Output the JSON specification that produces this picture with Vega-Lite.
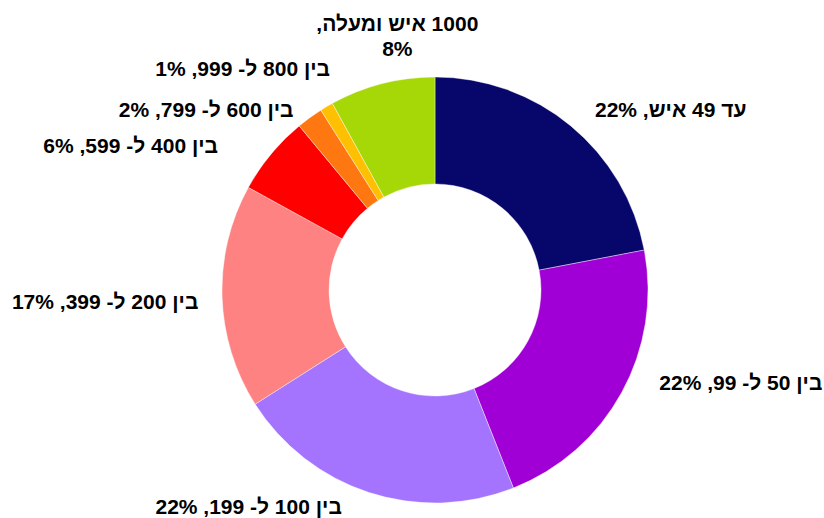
{
  "$schema": "https://vega.github.io/schema/vega-lite/v6.json",
  "width": 778,
  "height": 456,
  "autosize": "none",
  "padding": {"left": 46, "right": 0, "top": 62, "bottom": 0},
  "background": "white",
  "config": {"view": {"stroke": null}, "text": {"font": "Liberation Sans", "fontSize": 21, "fontWeight": "bold", "dir": "rtl", "align": "center", "baseline": "middle", "radius": 260, "lineBreak": "\n", "lineHeight": 25}},
  "data": {
    "values": [
      {"idx": 1, "cat": "עד 49 איש", "value": 22, "label": "עד 49 איש, 22%"},
      {"idx": 2, "cat": "בין 50 ל- 99", "value": 22, "label": "בין 50 ל- 99, 22%"},
      {"idx": 3, "cat": "בין 100 ל- 199", "value": 22, "label": "בין 100 ל- 199, 22%"},
      {"idx": 4, "cat": "בין 200 ל- 399", "value": 17, "label": "בין 200 ל- 399, 17%"},
      {"idx": 5, "cat": "בין 400 ל- 599", "value": 6, "label": "בין 400 ל- 599, 6%"},
      {"idx": 6, "cat": "בין 600 ל- 799", "value": 2, "label": "בין 600 ל- 799, 2%"},
      {"idx": 7, "cat": "בין 800 ל- 999", "value": 1, "label": "בין 800 ל- 999, 1%"},
      {"idx": 8, "cat": "1000 איש ומעלה", "value": 8, "label": "\u202b1000 איש ומעלה,\u202c\n8%"}
    ]
  },
  "encoding": {
    "theta": {"field": "value", "type": "quantitative", "stack": true},
    "order": {"field": "idx", "type": "quantitative"},
    "color": {
      "field": "cat",
      "type": "nominal",
      "legend": null,
      "scale": {
        "domain": ["עד 49 איש", "בין 50 ל- 99", "בין 100 ל- 199", "בין 200 ל- 399", "בין 400 ל- 599", "בין 600 ל- 799", "בין 800 ל- 999", "1000 איש ומעלה"],
        "range": ["#06066b", "#a000d6", "#a474fe", "#fe8282", "#fe0000", "#fe7710", "#fec000", "#a6d808"]
      }
    }
  },
  "layer": [
    {
      "mark": {"type": "arc", "outerRadius": 213, "innerRadius": 106, "stroke": "#ffffff", "strokeWidth": 0.8, "strokeOpacity": 0.5}
    },
    {
      "mark": {"type": "text", "dx": 70, "dy": 21},
      "encoding": {"text": {"condition": {"test": "datum.idx == 1", "field": "label"}, "value": ""}, "color": {"value": "#000000"}}
    },
    {
      "mark": {"type": "text", "dx": 78, "dy": -31},
      "encoding": {"text": {"condition": {"test": "datum.idx == 2", "field": "label"}, "value": ""}, "color": {"value": "#000000"}}
    },
    {
      "mark": {"type": "text", "dx": -106, "dy": -29},
      "encoding": {"text": {"condition": {"test": "datum.idx == 3", "field": "label"}, "value": ""}, "color": {"value": "#000000"}}
    },
    {
      "mark": {"type": "text", "dx": -70, "dy": 5},
      "encoding": {"text": {"condition": {"test": "datum.idx == 4", "field": "label"}, "value": ""}, "color": {"value": "#000000"}}
    },
    {
      "mark": {"type": "text", "dx": -104, "dy": 23},
      "encoding": {"text": {"condition": {"test": "datum.idx == 5", "field": "label"}, "value": ""}, "color": {"value": "#000000"}}
    },
    {
      "mark": {"type": "text", "dx": -76, "dy": 31},
      "encoding": {"text": {"condition": {"test": "datum.idx == 6", "field": "label"}, "value": ""}, "color": {"value": "#000000"}}
    },
    {
      "mark": {"type": "text", "dx": -60, "dy": 4},
      "encoding": {"text": {"condition": {"test": "datum.idx == 7", "field": "label"}, "value": ""}, "color": {"value": "#000000"}}
    },
    {
      "mark": {"type": "text", "dx": 27, "dy": -13},
      "encoding": {"text": {"condition": {"test": "datum.idx == 8", "field": "label"}, "value": ""}, "color": {"value": "#000000"}}
    }
  ]
}
